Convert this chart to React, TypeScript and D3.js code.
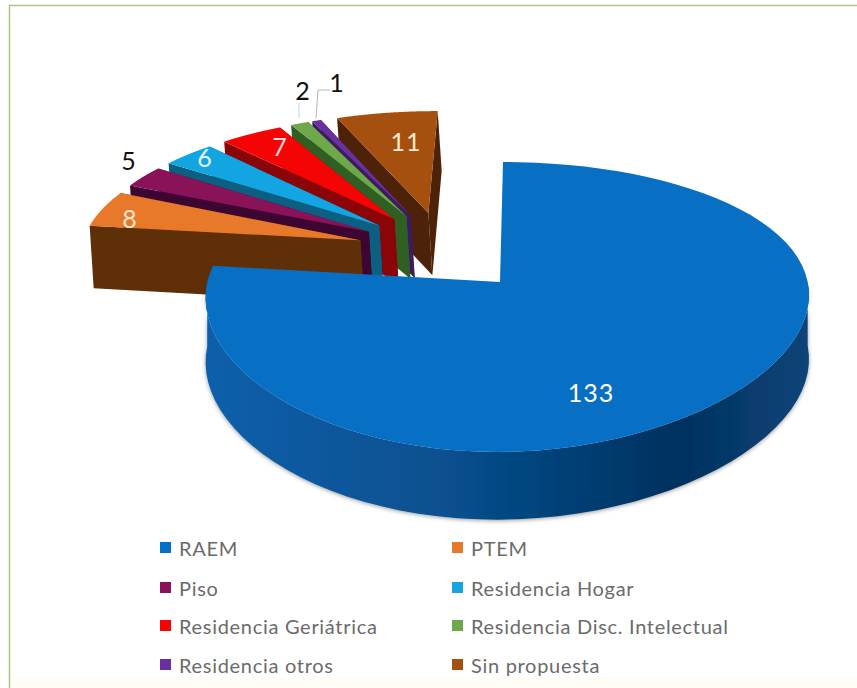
import React from "react";
import * as d3 from "d3";

const categories = ["RAEM", "PTEM", "Piso", "Residencia Hogar", "Residencia Geriátrica", "Residencia Disc. Intelectual", "Residencia otros", "Sin propuesta"];
const values = [133, 8, 5, 6, 7, 2, 1, 11];
const topColors = ["#0870c4", "#e8782a", "#8a1259", "#12a5e2", "#f40404", "#6fa84a", "#6a2fa0", "#a5500f"];
const wallColors = ["#0b5ca5", "#5f2f08", "#3d0632", "#0c5f80", "#8a0507", "#2f5f22", "#3c1b5e", "#4d2208"];

const W = 857, H = 688;
// Projection of the pie plane: perspective shrinks the far side and the left side.
const apexX = 500, apexY = 282, scaleX = 300, scaleY = 140.7;
const perspX = 0.1, perspSide = 0.025, perspY = 0.172, skew = 3, depth = 64;
const explodeX = 0.3, explodeY = 0.31;

const project = (x: number, y: number): [number, number] => [
  apexX + (scaleX * x) / (1 - perspX * y - perspSide * x) - skew * y,
  apexY + (scaleY * y) / (1 - perspY * y),
];
const drop = (y: number) => depth * Math.pow(1 / (1 - perspY * y), 0.3);

const pieAngles = d3.pie<number>().sort(null).startAngle(0).endAngle(2 * Math.PI)(values);

type P = { px: [number, number]; y: number };

function sliceGeometry(i: number) {
  const a = pieAngles[i];
  const mid = (a.startAngle + a.endAngle) / 2;
  const ref = pieAngles[0];
  const refMid = (ref.startAngle + ref.endAngle) / 2;
  // Offsets measured from the first slice's apex, which stays fixed in the plane.
  const ox = explodeX * (Math.sin(mid) - Math.sin(refMid));
  const oy = explodeY * (-Math.cos(mid) + Math.cos(refMid));
  const at = (x: number, y: number): P => ({ px: project(x + ox, y + oy), y: y + oy });
  const apex = at(0, 0);
  const steps = d3.range(0, 81).map((k) => a.startAngle + ((a.endAngle - a.startAngle) * k) / 80);
  const rim = steps.map((t) => ({ t, ...at(Math.sin(t), -Math.cos(t)) }));
  return { apex, rim };
}

const line = d3.line<[number, number]>();
const lean = (i: number) => (i === 0 ? 0 : 4);
const down = (p: P, i: number): [number, number] => [p.px[0] + lean(i), p.px[1] + drop(p.y)];

const legendRows = [548, 588, 626, 665];
const legendCols = [160, 452];
const chartFont = "Lato, 'Open Sans', sans-serif";

export default function App() {
  const order = [7, 6, 5, 4, 3, 2, 1, 0];
  const label = (t: string, x: number, y: number, fill: string, size = 25) => (
    <text x={x} y={y} fill={fill} fontSize={size} fontFamily={chartFont} textAnchor="middle" dominantBaseline="central" letterSpacing={1}>{t}</text>
  );
  return (
    <svg width={W} height={H} style={{ position: "absolute", left: 0, top: 0, background: "#fff" }}>
      <defs>
        <linearGradient id="blueWall" x1="0" x2="1" y1="0" y2="0">
          <stop offset="0" stopColor="#0b5fab" />
          <stop offset="0.4" stopColor="#07508f" />
          <stop offset="0.78" stopColor="#03315f" />
          <stop offset="1" stopColor="#0a4479" />
        </linearGradient>
        <filter id="soft" x="-5%" y="-10%" width="110%" height="125%">
          <feDropShadow dx="0" dy="1" stdDeviation="2" floodColor="#000" floodOpacity="0.4" />
        </filter>
      </defs>
      <rect x={10} y={678} width={W - 10} height={10} fill="#fffdf4" />
      <path d="M9.5 688V5.5H857" fill="none" stroke="#a9c683" strokeWidth={1.5} />
      {order.map((i) => {
        const { apex, rim } = sliceGeometry(i);
        const top = line([apex.px, ...rim.map((r) => r.px)])! + "Z";
        const first = rim[0], last = rim[rim.length - 1];
        const wall = (a: P, b: P) => line([a.px, b.px, down(b, i), down(a, i)])! + "Z";
        // The curved outer wall shows only where the rim faces the viewer.
        const front = rim.filter((r) => -Math.cos(r.t) > -0.02);
        const curved = front.length > 1
          ? line([...front.map((r) => r.px), ...front.slice().reverse().map((r) => down(r, i))])! + "Z"
          : null;
        return (
          <g key={i}>
            {i !== 0 && <path d={wall(apex, last)} fill={wallColors[i]} />}
            {i !== 0 && <path d={wall(apex, first)} fill={wallColors[i]} />}
            {curved && <path d={curved} fill={i === 0 ? "url(#blueWall)" : wallColors[i]} filter={i === 0 ? "url(#soft)" : undefined} />}
            <path d={top} fill={topColors[i]} />
          </g>
        );
      })}
      {label(String(values[0]), 591, 392, "#fff", 25)}
      {label(String(values[7]), 406, 141, "#ffe9d6", 25)}
      {label(String(values[4]), 280, 146, "#ffd9d9", 25)}
      {label(String(values[3]), 205, 157, "#e6f6ff", 25)}
      {label(String(values[1]), 130, 218, "#ffe6d2", 25)}
      {label(String(values[2]), 129, 160, "#111", 25)}
      {label(String(values[5]), 303, 90, "#111", 25)}
      {label(String(values[6]), 337, 82, "#111", 25)}
      <path d="M299 103V118" stroke="#bcd3e0" strokeWidth={1} fill="none" />
      <path d="M316 118L318 90H330" stroke="#b5b5b5" strokeWidth={1} fill="none" />
      {categories.map((c, i) => {
        const x = legendCols[i % 2], y = legendRows[Math.floor(i / 2)];
        return (
          <g key={c}>
            <rect x={x} y={y - 6} width={11} height={11} fill={topColors[i]} />
            <text x={x + 19} y={y} fontSize={20} fontFamily={chartFont} fill="#6b6b6b" dominantBaseline="central" letterSpacing={0.7}>{c}</text>
          </g>
        );
      })}
    </svg>
  );
}
